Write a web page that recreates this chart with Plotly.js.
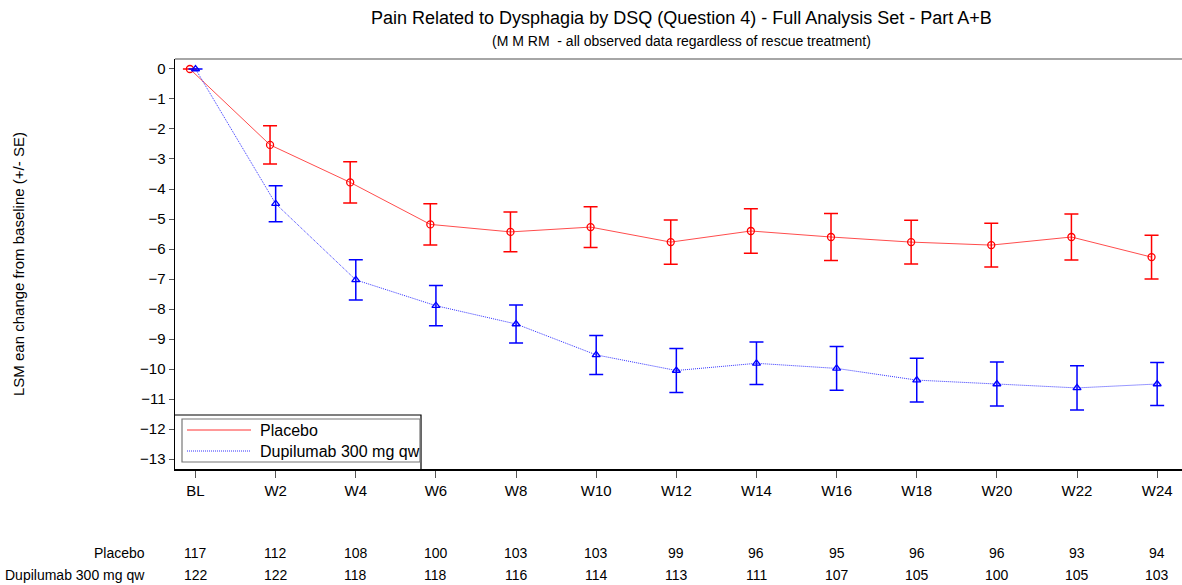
<!DOCTYPE html>
<html><head><meta charset="utf-8">
<script src="https://cdn.plot.ly/plotly-3.0.1.min.js"></script>
<style>html,body{margin:0;padding:0;background:#fff}#chart{width:1182px;height:585px}</style>
</head><body><div id="chart"></div>
<script>
const categories = ["BL","W2","W4","W6","W8","W10","W12","W14","W16","W18","W20","W22","W24"];
const placeboMean = [0,-2.53,-3.78,-5.18,-5.43,-5.27,-5.77,-5.40,-5.60,-5.77,-5.87,-5.60,-6.27];
const placeboSE   = [0,0.64,0.69,0.69,0.66,0.68,0.74,0.74,0.78,0.73,0.73,0.77,0.73];
const dupiMean    = [0,-4.49,-7.03,-7.89,-8.50,-9.53,-10.05,-9.81,-9.98,-10.37,-10.50,-10.63,-10.50];
const dupiSE      = [0,0.60,0.67,0.67,0.63,0.65,0.73,0.71,0.73,0.73,0.73,0.74,0.72];
const placeboN    = [117,112,108,100,103,103,99,96,95,96,96,93,94];
const dupiN       = [122,122,118,118,116,114,113,111,107,105,100,105,103];
const seriesNames = ["Placebo","Dupilumab 300 mg qw"];

const idx = categories.map((c,i)=>i);
const xP = idx.map(i=>i-0.07);
const xD = idx.slice();
const FONT = "Liberation Sans, Arial, sans-serif";
const RED = "rgb(255,0,0)", BLUE = "rgb(0,0,255)";
const PW = 1007, PH = 410; // plot area size in px
const px = v => v/PW, py = v => v/PH;

const traces = [
  {x:xP, y:placeboMean, mode:"lines", name:seriesNames[0], showlegend:false, line:{color:RED,width:1}, opacity:0.7, hoverinfo:"skip"},
  {x:xD, y:dupiMean, mode:"lines", name:seriesNames[1], showlegend:false, line:{color:BLUE,width:1,dash:"1px,1px"}, opacity:0.8, hoverinfo:"skip"},
  {x:xP, y:placeboMean, mode:"markers", showlegend:false, name:seriesNames[0],
   marker:{symbol:"circle-open",size:7,color:RED,line:{width:1.3,color:RED}},
   error_y:{type:"data",array:placeboSE,visible:true,color:RED,thickness:1.5,width:7}},
  {x:xD, y:dupiMean, mode:"markers", showlegend:false, name:seriesNames[1],
   marker:{symbol:"triangle-up-open",size:7,color:BLUE,line:{width:1.3,color:BLUE}},
   error_y:{type:"data",array:dupiSE,visible:true,color:BLUE,thickness:1.5,width:7}}
];

const annotations = [];
const rows = [[seriesNames[0],placeboN,-0.205],[seriesNames[1],dupiN,-0.258]];
rows.forEach(r=>{
  annotations.push({xref:"paper",yref:"paper",x:-0.028,y:r[2],text:r[0],showarrow:false,xanchor:"right",yanchor:"middle",font:{family:FONT,size:14,color:"#000"}});
  r[1].forEach((n,i)=>annotations.push({xref:"x",yref:"paper",x:i,y:r[2],text:String(n),showarrow:false,xanchor:"center",yanchor:"middle",font:{family:FONT,size:14,color:"#000"}}));
});
annotations.push({xref:"paper",yref:"paper",x:0.503,y:1,yshift:41,text:"Pain Related to Dysphagia by DSQ (Question 4) - Full Analysis Set - Part A+B",showarrow:false,xanchor:"center",yanchor:"middle",font:{family:FONT,size:18,color:"#000"}});
annotations.push({xref:"paper",yref:"paper",x:0.503,y:1,yshift:18,text:"(M M RM  - all observed data regardless of rescue treatment)",showarrow:false,xanchor:"center",yanchor:"middle",font:{family:FONT,size:14,color:"#000"}});
annotations.push({xref:"paper",yref:"paper",x:px(18-175),y:0.5,text:"LSM ean change from baseline (+/- SE)",textangle:-90,showarrow:false,xanchor:"center",yanchor:"middle",font:{family:FONT,size:15,color:"#000"}});
// legend (drawn by hand to match the boxed legend of the reference)
const legRows = [[seriesNames[0],430,RED,"solid"],[seriesNames[1],451,BLUE,"1px,1px"]];
const shapes = [
  {type:"line",xref:"paper",yref:"paper",x0:0,x1:1,y0:1,y1:1,line:{color:"#888",width:1.5}},
  {type:"path",xref:"paper",yref:"paper",path:`M0,${py(469-415)} L${px(421-175)},${py(469-415)} L${px(421-175)},0`,line:{color:"#000",width:1.2}},
  {type:"rect",xref:"paper",yref:"paper",x0:px(182-175),x1:px(420-175),y0:py(469-462),y1:py(469-419),line:{color:"#777",width:1.2},fillcolor:"#fff"}
];
legRows.forEach(r=>{
  const yy = py(469-r[1]);
  shapes.push({type:"line",xref:"paper",yref:"paper",x0:px(187-175),x1:px(251-175),y0:yy,y1:yy,line:{color:r[2],width:1,dash:r[3]},opacity:0.8});
  annotations.push({xref:"paper",yref:"paper",x:px(258-175),y:yy,text:r[0],showarrow:false,xanchor:"left",yanchor:"middle",font:{family:FONT,size:16,color:"#000"}});
});

const layout = {
  width:1182, height:585,
  margin:{l:175,r:0,t:59,b:116},
  paper_bgcolor:"#fff", plot_bgcolor:"#fff",
  font:{family:FONT,color:"#000"},
  xaxis:{range:[-0.256,12.31],tickvals:idx,ticktext:categories,showgrid:false,zeroline:false,
    showline:true,linecolor:"#000",linewidth:1.5,ticks:"outside",ticklen:7,tickcolor:"#555",
    tickfont:{family:FONT,size:15},fixedrange:true},
  yaxis:{range:[-13.333,0.333],tickvals:[0,-1,-2,-3,-4,-5,-6,-7,-8,-9,-10,-11,-12,-13],showgrid:false,zeroline:false,
    showline:true,linecolor:"#000",linewidth:1.5,ticks:"outside",ticklen:5,tickcolor:"#555",
    tickfont:{family:FONT,size:15}},
  shapes:shapes,
  annotations:annotations,
  showlegend:false
};
Plotly.newPlot("chart",traces,layout,{displayModeBar:false,staticPlot:true});
</script></body></html>
